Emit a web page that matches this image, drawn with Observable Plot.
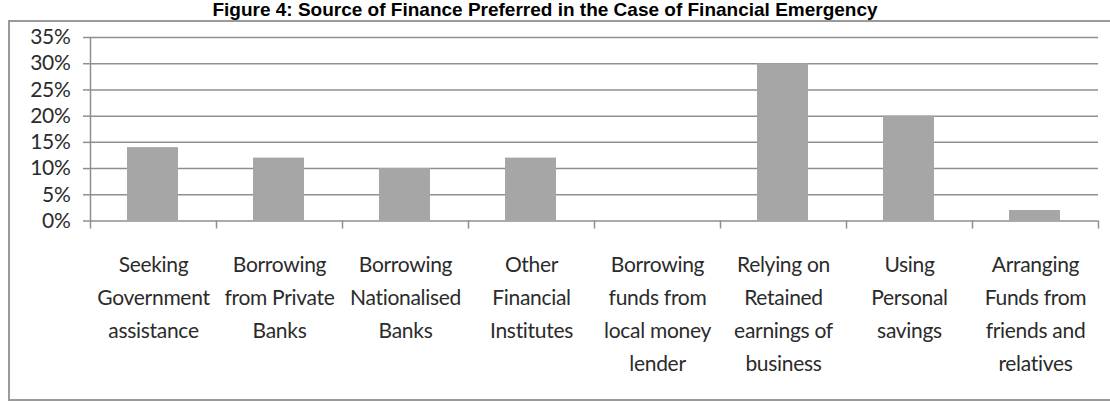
<!DOCTYPE html>
<html>
<head>
<meta charset="utf-8">
<script src="https://cdn.jsdelivr.net/npm/d3@7"></script>
<script src="https://cdn.jsdelivr.net/npm/@observablehq/plot@0.6"></script>
<style>
  html, body { margin: 0; padding: 0; background: #fff; overflow: hidden; }
  #wrap { position: relative; width: 1110px; height: 402px; overflow: hidden; }
  #title { position: absolute; left: 0; top: 0px; width: 1090px; text-align: center;
    font: bold 19px "Liberation Sans", Arial, sans-serif; line-height: 19px; color: #000; }
  #frame { position: absolute; left: 8px; top: 20px; width: 1200px; height: 377px;
    border: 2px solid #9a9a9a; border-right: none; box-sizing: content-box; }
  #chart { position: absolute; left: 0; top: 0; }
  #chart svg text { letter-spacing: -0.3px; }
</style>
</head>
<body>
<div id="wrap">
  <div id="frame"></div>
  <div id="title">Figure 4: Source of Finance Preferred in the Case of Financial Emergency</div>
  <div id="chart"></div>
</div>
<script>
const categories = [
  "Seeking\nGovernment\nassistance",
  "Borrowing\nfrom Private\nBanks",
  "Borrowing\nNationalised\nBanks",
  "Other\nFinancial\nInstitutes",
  "Borrowing\nfunds from\nlocal money\nlender",
  "Relying on\nRetained\nearnings of\nbusiness",
  "Using\nPersonal\nsavings",
  "Arranging\nFunds from\nfriends and\nrelatives"
];
const values = [14, 12, 10, 12, 0, 30, 20, 2];
const yTicks = [0, 5, 10, 15, 20, 25, 30, 35];

const data = categories.map((c, i) => ({i, label: c, value: values[i]}));
const boundaries = d3.range(categories.length + 1);

const font = 'Lato, Roboto, sans-serif';
const gridColor = "#8f8f8f";
const textColor = "#2b2b2b";

const chart = Plot.plot({
  width: 1110,
  height: 402,
  marginLeft: 90,
  marginRight: 12,
  marginTop: 37,
  marginBottom: 181.5,
  style: { fontFamily: font, background: "transparent", color: textColor },
  x: { type: "linear", domain: [0, categories.length] },
  y: { domain: [0, 35] },
  marks: [
    Plot.ruleY(yTicks, { stroke: gridColor, strokeWidth: 1.5 }),
    Plot.rectY(data, { x1: "i", x2: d => d.i + 1, y: "value", fill: "#a6a6a6", insetLeft: 37, insetRight: 38 }),
    Plot.ruleX([0], { y1: 0, y2: 35, stroke: gridColor, strokeWidth: 1.5 }),
    Plot.axisY({ ticks: yTicks, tickFormat: d => d + "%", tickSize: 7, tickPadding: 13,
      stroke: gridColor, strokeWidth: 1.5, strokeOpacity: 1, fontSize: 21, fill: textColor, label: null }),
    Plot.axisX({ ticks: boundaries, tickFormat: () => "", tickSize: 8,
      stroke: gridColor, strokeWidth: 1.5, strokeOpacity: 1, label: null }),
    Plot.text(data, { x: d => d.i + 0.5, text: "label", frameAnchor: "bottom", lineAnchor: "top",
      dy: 27.5, fontSize: 21, lineHeight: 1.571, fill: textColor })
  ]
});
document.getElementById("chart").appendChild(chart);
</script>
</body>
</html>
